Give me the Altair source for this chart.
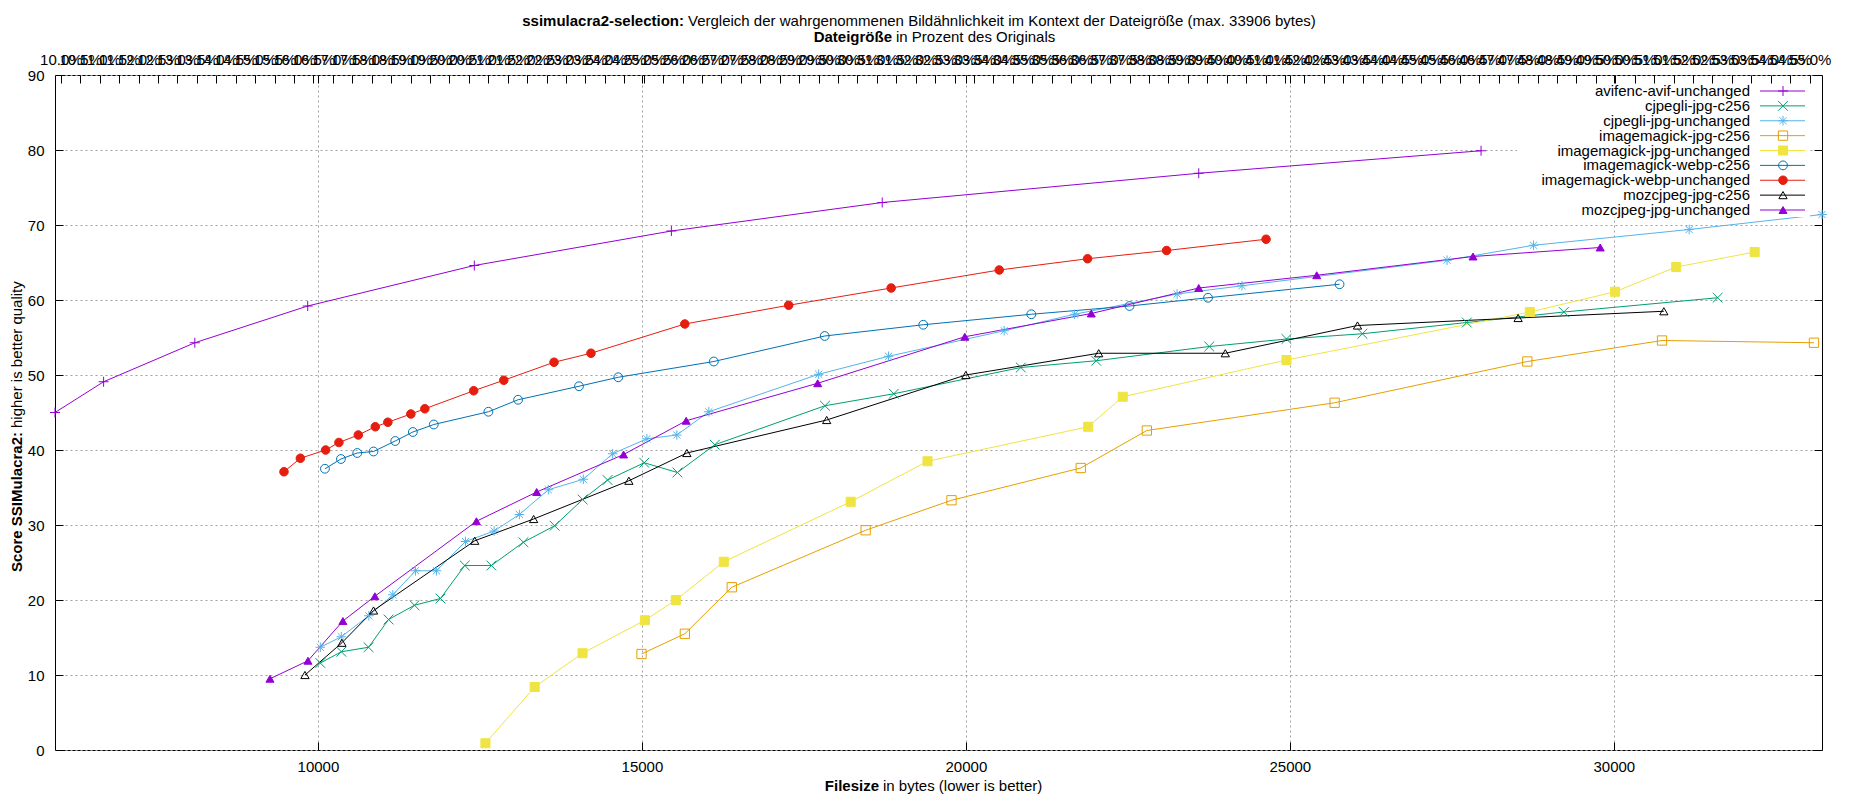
import altair as alt
import pandas as pd

FONT = "Liberation Sans"

# --- data (filesize in bytes, SSIMulacra2 score) ---
avif_bytes = [5942, 6692, 8100, 9842, 12413, 15455, 18709, 23594, 27951]
avif_score = [45.0, 49.1, 54.3, 59.2, 64.6, 69.2, 73.0, 76.9, 79.9]

cjpegli_c256_bytes = [10037, 10361, 10781, 11090, 11490, 11891, 12266, 12677, 13171, 13653, 14085,
                      14470, 15036, 15549, 16125, 17825, 18888, 20848, 22011, 23756, 24948, 26120,
                      27731, 29228, 31602]
cjpegli_c256_score = [11.6, 13.1, 13.7, 17.4, 19.3, 20.2, 24.6, 24.6, 27.7, 29.9, 33.4,
                      36.0, 38.3, 37.0, 40.7, 45.9, 47.5, 51.0, 51.9, 53.8, 54.8, 55.5,
                      57.0, 58.4, 60.3]

cjpegli_unch_bytes = [10037, 10361, 10786, 11156, 11506, 11829, 12277, 12719, 13109, 13556, 14096,
                      14548, 15077, 15539, 16033, 17728, 18807, 20591, 21678, 23260, 24261, 27426,
                      28761, 31163, 33213]
cjpegli_unch_score = [13.7, 15.1, 17.9, 20.7, 23.9, 23.9, 27.8, 29.2, 31.4, 34.7, 36.1,
                      39.5, 41.5, 42.0, 45.1, 50.1, 52.5, 55.9, 58.1, 60.8, 61.9, 65.3,
                      67.3, 69.4, 71.4]

im_jpg_c256_bytes = [14994, 15663, 16387, 18453, 19778, 21773, 22793, 25691, 28665, 30744, 33089]
im_jpg_c256_score = [12.8, 15.5, 21.7, 29.3, 33.3, 37.6, 42.6, 46.3, 51.8, 54.6, 54.3]

im_jpg_unch_bytes = [12585, 13345, 14084, 15046, 15524, 16264, 18222, 19408, 21888, 22421, 24948,
                     28704, 30019, 30963, 32174]
im_jpg_unch_score = [0.9, 8.4, 12.9, 17.3, 20.0, 25.1, 33.1, 38.5, 43.1, 47.1, 52.0,
                     58.4, 61.1, 64.4, 66.4]

im_webp_c256_bytes = [10108, 10355, 10607, 10858, 11193, 11465, 11788, 12631, 13089, 14029, 14635,
                      16110, 17821, 19342, 21010, 22526, 23737, 25767]
im_webp_c256_score = [37.5, 38.8, 39.6, 39.8, 41.2, 42.4, 43.4, 45.1, 46.7, 48.5, 49.7,
                      51.8, 55.2, 56.7, 58.1, 59.2, 60.3, 62.1]

im_webp_unch_bytes = [9476, 9729, 10119, 10324, 10623, 10885, 11079, 11434, 11650, 12404, 12868,
                      13644, 14214, 15662, 17265, 18847, 20515, 21878, 23098, 24633]
im_webp_unch_score = [37.1, 38.9, 40.0, 41.0, 42.0, 43.1, 43.7, 44.8, 45.5, 47.9, 49.3,
                      51.7, 52.9, 56.8, 59.3, 61.6, 64.0, 65.5, 66.6, 68.1]

moz_c256_bytes = [9800, 10370, 10858, 12420, 13329, 14799, 15694, 17852, 19999, 22050, 24004,
                  26044, 28523, 30772]
moz_c256_score = [10.0, 14.3, 18.6, 27.9, 30.8, 35.9, 39.6, 44.0, 50.0, 52.9, 52.9,
                  56.6, 57.6, 58.5]

moz_unch_bytes = [9260, 9846, 10385, 10879, 12446, 13376, 14717, 15683, 17713, 19984, 21935,
                  23594, 25415, 27827, 29790]
moz_unch_score = [9.5, 11.9, 17.2, 20.5, 30.5, 34.4, 39.4, 43.9, 48.9, 55.1, 58.2,
                  61.6, 63.3, 65.8, 67.0]

series = [
    ("avifenc-avif-unchanged", avif_bytes, avif_score),
    ("cjpegli-jpg-c256", cjpegli_c256_bytes, cjpegli_c256_score),
    ("cjpegli-jpg-unchanged", cjpegli_unch_bytes, cjpegli_unch_score),
    ("imagemagick-jpg-c256", im_jpg_c256_bytes, im_jpg_c256_score),
    ("imagemagick-jpg-unchanged", im_jpg_unch_bytes, im_jpg_unch_score),
    ("imagemagick-webp-c256", im_webp_c256_bytes, im_webp_c256_score),
    ("imagemagick-webp-unchanged", im_webp_unch_bytes, im_webp_unch_score),
    ("mozcjpeg-jpg-c256", moz_c256_bytes, moz_c256_score),
    ("mozcjpeg-jpg-unchanged", moz_unch_bytes, moz_unch_score),
]

x_ticks = [10000, 15000, 20000, 25000, 30000]
y_ticks = [0, 10, 20, 30, 40, 50, 60, 70, 80, 90]
pct_ticks = [10 + 0.5 * i for i in range(91)]

# gnuplot-like styles
colors = ["#9400d3", "#009e73", "#56b4e9", "#e69f00", "#f0e442",
          "#0072b2", "#e51e10", "#000000", "#9400d3"]
plus = "M-1,0H1M0,-1V1"
cross = "M-1,-1L1,1M-1,1L1,-1"
star = "M-1,0H1M0,-1V1M-0.75,-0.75L0.75,0.75M-0.75,0.75L0.75,-0.75"
shapes = [plus, cross, star, "square", "square", "circle", "circle", "triangle-up", "triangle-up"]
fills = ["transparent", "transparent", "transparent", "transparent", "#f0e442",
         "transparent", "#e51e10", "transparent", "#9400d3"]
sizes = [100, 64, 72, 50, 56, 28, 42, 66, 66]

names = [s[0] for s in series]
rows = []
for name, xs_, ys_ in series:
    for b, s in zip(xs_, ys_):
        rows.append({"series": name, "bytes": b, "score": s})
df = pd.DataFrame(rows)

W, H = 1767, 675
X_DOMAIN = [5942, 33213]
PCT_DOMAIN = [9.85, 55.32]

xscale = alt.Scale(domain=X_DOMAIN, nice=False, zero=False)
yscale = alt.Scale(domain=[0, 90], nice=False, zero=False)

stroke = alt.Stroke("series:N", scale=alt.Scale(domain=names, range=colors), legend=None)
shape = alt.Shape("series:N", scale=alt.Scale(domain=names, range=shapes), legend=None)
fill = alt.Fill("series:N", scale=alt.Scale(domain=names, range=fills), legend=None)
size = alt.Size("series:N", scale=alt.Scale(domain=names, range=sizes), legend=None)

tick_style = dict(tickSize=8, tickColor="black", tickWidth=1, domain=False, grid=False,
                  title=None, labelFont=FONT, labelFontSize=15, labelColor="black",
                  labelFlush=False)

# data + grid
base = alt.Chart(df).encode(
    x=alt.X("bytes:Q", scale=xscale,
            axis=alt.Axis(values=x_ticks, grid=True, ticks=False, labels=False, domain=False,
                          title=None, gridColor="#a0a0a0", gridDash=[2, 3])),
    y=alt.Y("score:Q", scale=yscale,
            axis=alt.Axis(values=y_ticks, grid=True, ticks=False, labels=False, domain=False,
                          title=None, gridColor="#a0a0a0", gridDash=[2, 3])),
    stroke=stroke,
)
lines = base.mark_line(strokeWidth=1)
points = base.mark_point(strokeWidth=1, opacity=1).encode(shape=shape, fill=fill, size=size)
data_layer = alt.layer(lines, points)

# inward ticks with labels (bottom / left)
axis_main = alt.Chart(df).mark_point(opacity=0).encode(
    x=alt.X("bytes:Q", scale=xscale,
            axis=alt.Axis(orient="bottom", offset=-8, values=x_ticks, format="d",
                          labelPadding=9, **tick_style)),
    y=alt.Y("score:Q", scale=yscale,
            axis=alt.Axis(orient="left", offset=-8, values=y_ticks, labelPadding=11, **tick_style)),
)
# mirrored inward ticks (top / right)
axis_mirror = alt.Chart(df).mark_point(opacity=0).encode(
    x=alt.X("bytes:Q", scale=xscale,
            axis=alt.Axis(orient="top", offset=-8, values=x_ticks, labels=False, **tick_style)),
    y=alt.Y("score:Q", scale=yscale,
            axis=alt.Axis(orient="right", offset=-8, values=y_ticks, labels=False, **tick_style)),
)
# percent axis on top
pct_axis = alt.Chart(pd.DataFrame({"pct": PCT_DOMAIN})).mark_point(opacity=0).encode(
    x=alt.X("pct:Q", scale=alt.Scale(domain=PCT_DOMAIN, nice=False, zero=False),
            axis=alt.Axis(orient="top", offset=-8, values=pct_ticks,
                          labelExpr="format(datum.value, '.1f') + '%'",
                          labelOverlap=False, labelPadding=8, **tick_style)),
)

# opaque key box + key
one = pd.DataFrame({"a": [0]})
key_box = alt.Chart(one).mark_rect(fill="white").encode(
    x=alt.value(1462), x2=alt.value(1755), y=alt.value(10), y2=alt.value(142))

leg_df = pd.DataFrame({"series": names})
ly = alt.Y("series:N", scale=alt.Scale(type="point", domain=names, range=[16, 135], padding=0),
           axis=None)
leg_text = alt.Chart(leg_df).mark_text(align="right", baseline="middle", font=FONT, fontSize=15,
                                       color="black").encode(x=alt.value(1695), y=ly, text="series:N")
leg_rule = alt.Chart(leg_df).mark_rule(strokeWidth=1).encode(
    x=alt.value(1705), x2=alt.value(1750), y=ly, stroke=stroke)
leg_pts = alt.Chart(leg_df).mark_point(strokeWidth=1, opacity=1).encode(
    x=alt.value(1728), y=ly, stroke=stroke, shape=shape, fill=fill, size=size)
legend = alt.layer(leg_text, leg_rule, leg_pts)


def label(txt, x, y, bold=False, align="left", angle=0):
    return alt.Chart(one).mark_text(
        text=txt, align=align, baseline="middle", font=FONT, fontSize=15, angle=angle,
        fontWeight="bold" if bold else "normal", color="black",
    ).encode(x=alt.value(x), y=alt.value(y))


titles = [
    label("ssimulacra2-selection:", 629, -54, bold=True, align="right"),
    label("Vergleich der wahrgenommenen Bildähnlichkeit im Kontext der Dateigröße (max. 33906 bytes)",
          633, -54),
    label("Dateigröße", 837, -38, bold=True, align="right"),
    label("in Prozent des Originals", 841, -38),
    label("Filesize", 824, 711, bold=True, align="right"),
    label("in bytes (lower is better)", 828, 711),
    label("Score SSIMulacra2:", -38, 357, bold=True, align="right", angle=270),
    label("higher is better quality", -38, 353, angle=270),
]

chart = alt.layer(
    data_layer, axis_main, axis_mirror, pct_axis, key_box, legend, *titles
).resolve_scale(
    x="independent", y="independent"
).properties(
    width=W, height=H,
    padding={"left": 47, "top": 67, "right": 16, "bottom": 50},
    autosize=alt.AutoSizeParams(type="none"),
).configure(
    font=FONT
).configure_view(
    stroke="black", strokeWidth=1
)

chart.save("out.html", embed_options={"renderer": "svg", "actions": False})
